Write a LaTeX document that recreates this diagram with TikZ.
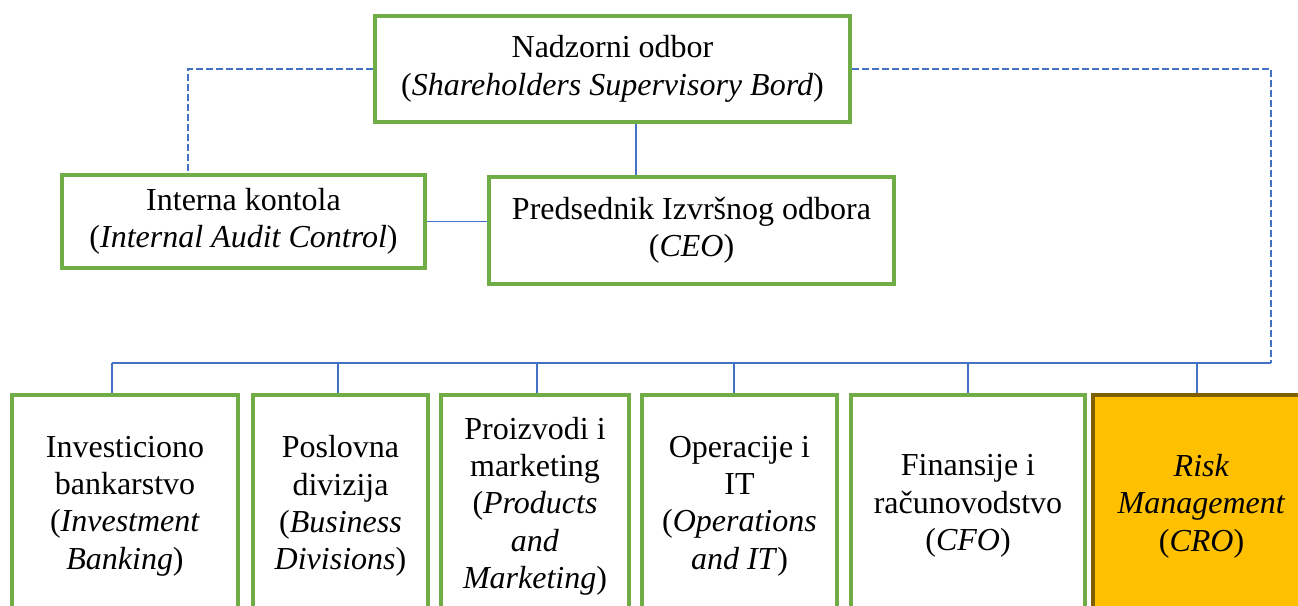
\documentclass[tikz,border=0pt]{standalone}
\usepackage{fontspec}
\setmainfont{Liberation Serif}
\definecolor{boxgreen}{RGB}{112,173,71}
\definecolor{linkblue}{RGB}{68,114,196}
\definecolor{riskgold}{RGB}{255,192,0}
\definecolor{riskedge}{RGB}{127,96,0}
\begin{document}
\begin{tikzpicture}[x=0.75pt,y=-0.75pt,
  orgbox/.style={draw=boxgreen,line width=3pt,fill=white,inner sep=0pt,align=center,
    font=\fontsize{24}{28}\selectfont},
  riskbox/.style={orgbox,draw=riskedge,fill=riskgold},
  link/.style={draw=linkblue,line width=0.9pt},
  dlink/.style={link,dash pattern=on 5pt off 2.5pt}]
\useasboundingbox (0,0) rectangle (1298,606);
% nodes
\node[orgbox,minimum width=356.25pt,minimum height=79.5pt] (top) at (612.5,69)
  {\raisebox{-3pt}{}Nadzorni odbor\\(\textit{Shareholders Supervisory Bord})};
\node[orgbox,minimum width=272.25pt,minimum height=69.75pt] (int) at (243.5,221.5)
  {Interna kontola\\(\textit{Internal Audit Control})};
\node[orgbox,minimum width=303.75pt,minimum height=80.25pt] (ceo) at (691.5,230.5)
  {Predsednik Izvršnog odbora\\(\textit{CEO})};
\node[orgbox,minimum width=169.5pt,minimum height=166.5pt] (b1) at (125,506)
  {Investiciono\\bankarstvo\\(\textit{Investment}\\\textit{Banking})};
\node[orgbox,minimum width=131.25pt,minimum height=166.5pt] (b2) at (340.5,506)
  {Poslovna\\divizija\\(\textit{Business}\\\textit{Divisions})};
\node[orgbox,minimum width=141pt,minimum height=166.5pt] (b3) at (535,506)
  {Proizvodi i\\marketing\\(\textit{Products}\\\textit{and}\\\textit{Marketing})};
\node[orgbox,minimum width=146.25pt,minimum height=166.5pt] (b4) at (739.5,506)
  {Operacije i\\IT\\(\textit{Operations}\\\textit{and IT})};
\node[orgbox,minimum width=175.5pt,minimum height=166.5pt] (b5) at (968,506)
  {Finansije i\\računovodstvo\\(\textit{CFO})};
\node[riskbox,minimum width=162.75pt,minimum height=166.5pt] (b6) at (1201.5,506)
  {\textit{Risk}\\\textit{Management}\\(\textit{CRO})};
% connectors
\coordinate (busL) at (112,363);
\coordinate (busR) at (1271,363);
\draw[link] (top.south -| 636,0) -- (ceo.north -| 636,0);
\draw[link] (int.east) -- (ceo.west |- int.east);
\draw[dlink] (top.west) -| (int.north -| 188,0);
\draw[dlink] (top.east) -| (busR);
\draw[link] (busL) -- (busR);
\draw[link] (busL) -- (b1.north -| busL);
\draw[link] (busL -| 338,0) -- (b2.north -| 338,0);
\draw[link] (busL -| 537,0) -- (b3.north -| 537,0);
\draw[link] (busL -| 734,0) -- (b4.north -| 734,0);
\draw[link] (busL -| 968,0) -- (b5.north -| 968,0);
\draw[link] (busL -| 1197,0) -- (b6.north -| 1197,0);
\end{tikzpicture}
\end{document}
